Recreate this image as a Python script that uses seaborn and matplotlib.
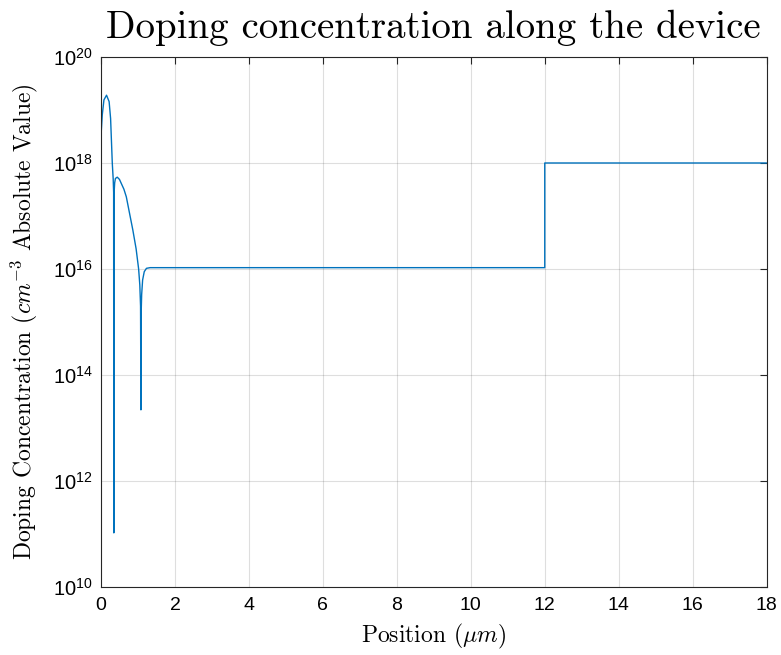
import matplotlib
matplotlib.use("Agg")
import matplotlib.pyplot as plt
import numpy as np
import pandas as pd
import seaborn as sns
from matplotlib.ticker import FixedLocator, FuncFormatter, NullLocator

# Net doping profile |N_D - N_A| along the device (position in um, concentration in cm^-3)
position_um = [0.0, 0.035, 0.08, 0.15, 0.22, 0.26, 0.306, 0.33, 0.342,
               0.347, 0.352, 0.37, 0.39, 0.44, 0.50, 0.55, 0.62, 0.685,
               0.775, 0.86, 0.95, 1.018, 1.05, 1.07, 1.08, 1.09, 1.10,
               1.126, 1.17, 1.23, 1.33, 12.0, 12.0, 18.0]
doping_cm3 = [3.2e18, 8.1e18, 1.55e19, 1.9e19, 1.44e19, 6.9e18, 9.8e17, 5.0e17, 2.8e17,
              1.05e11, 2.5e17, 4.2e17, 5.1e17, 5.4e17, 4.9e17, 4.1e17, 3.2e17, 2.3e17,
              1.1e17, 5.5e16, 2.4e16, 1.0e16, 5.0e15, 2.0e15, 2.2e13, 1.8e15, 3.3e15,
              6.2e15, 8.9e15, 1.03e16, 1.06e16, 1.06e16, 1.0e18, 1.0e18]

x_ticks = [0, 2, 4, 6, 8, 10, 12, 14, 16, 18]
y_ticks = [1e10, 1e12, 1e14, 1e16, 1e18, 1e20]

title_text = "Doping concentration along the device"
x_label = r"Position $(\mu m)$"
y_label = r"Doping Concentration $(cm^{-3}$ Absolute Value$)$"

profile = pd.DataFrame({"position": position_um, "doping": doping_cm3})

sns.set_style("white")
plt.rcParams.update({
    "mathtext.fontset": "custom",
    "mathtext.rm": "cmr10",
    "mathtext.it": "cmmi10",
    "mathtext.bf": "cmb10",
    "mathtext.sf": "Liberation Sans",
    "font.family": ["Liberation Sans", "DejaVu Sans"],
})

line_color = (0.0, 0.447, 0.741)
axis_color = (0.15, 0.15, 0.15)

fig = plt.figure(figsize=(7.81, 6.55), dpi=100)
ax = fig.add_axes([0.1293, 0.1038, 0.8523, 0.8092])

sns.lineplot(data=profile, x="position", y="doping", sort=False, estimator=None,
             color=line_color, linewidth=1.0, ax=ax)

ax.set_yscale("log")
ax.set_xlim(0, 18)
ax.set_ylim(1e10, 1e20)

ax.xaxis.set_major_locator(FixedLocator(x_ticks))
ax.yaxis.set_major_locator(FixedLocator(y_ticks))
ax.yaxis.set_minor_locator(NullLocator())
ax.xaxis.set_minor_locator(NullLocator())
ax.yaxis.set_major_formatter(
    FuncFormatter(lambda v, _: r"$\mathsf{10^{%d}}$" % int(round(np.log10(v)))))
ax.xaxis.set_major_formatter(FuncFormatter(lambda v, _: "%d" % v))

ax.set_axisbelow(True)
ax.grid(True, color=axis_color, alpha=0.15, linewidth=0.8)

for spine in ax.spines.values():
    spine.set_color(axis_color)
    spine.set_linewidth(0.8)

ax.tick_params(axis="both", direction="in", length=5, width=0.8, colors=axis_color,
               labelcolor="black", labelsize=14, top=True, right=True)
ax.tick_params(axis="x", pad=7)
ax.tick_params(axis="y", pad=6, labelsize=14.5)

ax.set_title(title_text, fontfamily="cmr10", fontsize=28, pad=14, color="black")
ax.set_xlabel(x_label, fontfamily="cmr10", fontsize=17, labelpad=6, color="black")
ax.set_ylabel(y_label, fontfamily="cmr10", fontsize=17, labelpad=9, color="black")

fig.savefig("out.png", dpi=100, facecolor="white")
